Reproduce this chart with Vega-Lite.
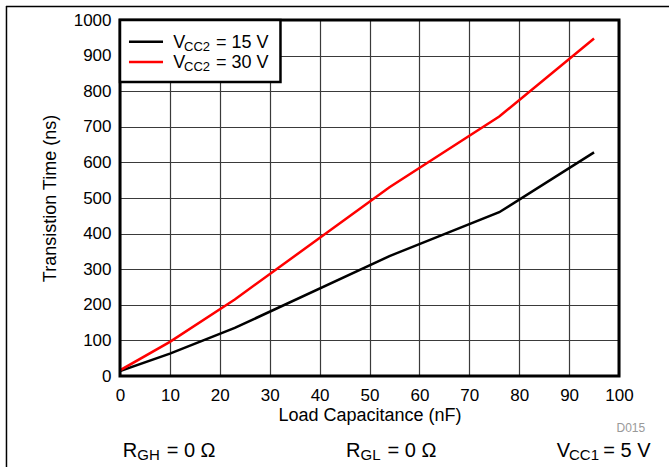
{
  "$schema": "https://vega.github.io/schema/vega-lite/v6.json",
  "width": 499,
  "height": 356,
  "autosize": {"type": "none"},
  "padding": {"left": 120, "top": 20, "right": 50, "bottom": 91},
  "background": "white",
  "data": {"values": [{}]},
  "resolve": {"axis": {"x": "independent", "y": "independent"}},
  "config": {
    "font": "Liberation Sans",
    "view": {"stroke": null},
    "axis": {
      "ticks": false,
      "domain": false,
      "grid": true,
      "gridColor": "#3a3a3a",
      "gridWidth": 1.2,
      "labelFont": "Liberation Sans",
      "labelFontSize": 17,
      "labelColor": "#000000",
      "labelFlush": false,
      "labelOverlap": false,
      "labelBound": false,
      "titleFont": "Liberation Sans",
      "titleFontSize": 18,
      "titleFontWeight": "normal",
      "titleColor": "#000000",
      "format": "d"
    },
    "axisX": {"labelPadding": 11, "titlePadding": 3},
    "axisY": {"labelPadding": 9, "titlePadding": 14},
    "text": {"font": "Liberation Sans", "color": "#000000", "align": "left", "baseline": "alphabetic"}
  },
  "datasets": {
    "curves": [
      {"cap": 0, "time": 14, "series": "VCC2 = 15 V"},
      {"cap": 10, "time": 63, "series": "VCC2 = 15 V"},
      {"cap": 23, "time": 135, "series": "VCC2 = 15 V"},
      {"cap": 54, "time": 337, "series": "VCC2 = 15 V"},
      {"cap": 76, "time": 460, "series": "VCC2 = 15 V"},
      {"cap": 95, "time": 628, "series": "VCC2 = 15 V"},
      {"cap": 0, "time": 16, "series": "VCC2 = 30 V"},
      {"cap": 10, "time": 96, "series": "VCC2 = 30 V"},
      {"cap": 23, "time": 215, "series": "VCC2 = 30 V"},
      {"cap": 54, "time": 530, "series": "VCC2 = 30 V"},
      {"cap": 76, "time": 729, "series": "VCC2 = 30 V"},
      {"cap": 95, "time": 948, "series": "VCC2 = 30 V"}
    ]
  },
  "layer": [
    {
      "data": {"name": "curves"},
      "mark": {"type": "line", "strokeWidth": 2.5, "clip": true},
      "encoding": {
        "x": {
          "field": "cap", "type": "quantitative",
          "scale": {"domain": [0, 100], "nice": false, "zero": false},
          "axis": {"values": [0, 10, 20, 30, 40, 50, 60, 70, 80, 90, 100], "title": "Load Capacitance (nF)"}
        },
        "y": {
          "field": "time", "type": "quantitative",
          "scale": {"domain": [0, 1000], "nice": false, "zero": false},
          "axis": {"values": [0, 100, 200, 300, 400, 500, 600, 700, 800, 900, 1000], "title": "Transistion Time (ns)"}
        },
        "color": {
          "field": "series", "type": "nominal",
          "scale": {"domain": ["VCC2 = 15 V", "VCC2 = 30 V"], "range": ["#000000", "#ff0000"]},
          "legend": null
        }
      }
    },
    {
      "mark": {"type": "rect", "fill": null, "fillOpacity": 0, "stroke": "#000000", "strokeWidth": 3},
      "encoding": {
        "x": {"datum": 0, "scale": {"domain": [0, 100]}, "axis": null},
        "x2": {"datum": 100},
        "y": {"datum": 0, "scale": {"domain": [0, 1000]}, "axis": null},
        "y2": {"datum": 1000}
      }
    },
    {
      "mark": {"type": "rule", "stroke": "#000000", "strokeWidth": 1.5},
      "encoding": {
        "x": {"datum": -22.85, "scale": {"domain": [0, 100]}, "axis": null},
        "x2": {"datum": 110.2},
        "y": {"datum": 1037.9, "scale": {"domain": [0, 1000]}, "axis": null}
      }
    },
    {
      "mark": {"type": "rule", "stroke": "#000000", "strokeWidth": 1.5},
      "encoding": {
        "x": {"datum": -22.75, "scale": {"domain": [0, 100]}, "axis": null},
        "y": {"datum": 1039.3, "scale": {"domain": [0, 1000]}, "axis": null},
        "y2": {"datum": -255.6}
      }
    },
    {
      "mark": {"type": "rect", "fill": "#ffffff", "stroke": "#000000", "strokeWidth": 2.5},
      "encoding": {
        "x": {"datum": 0, "scale": {"domain": [0, 100]}, "axis": null},
        "x2": {"datum": 32.16},
        "y": {"datum": 1000, "scale": {"domain": [0, 1000]}, "axis": null},
        "y2": {"datum": 825.8}
      }
    },
    {
      "mark": {"type": "rule", "stroke": "#000000", "strokeWidth": 2.5},
      "encoding": {
        "x": {"datum": 1.8, "scale": {"domain": [0, 100]}, "axis": null},
        "x2": {"datum": 8.62},
        "y": {"datum": 939, "scale": {"domain": [0, 1000]}, "axis": null}
      }
    },
    {
      "mark": {"type": "rule", "stroke": "#ff0000", "strokeWidth": 2.5},
      "encoding": {
        "x": {"datum": 1.8, "scale": {"domain": [0, 100]}, "axis": null},
        "x2": {"datum": 8.62},
        "y": {"datum": 882, "scale": {"domain": [0, 1000]}, "axis": null}
      }
    },
    {"mark": {"type": "text", "text": "V", "fontSize": 18},
     "encoding": {"x": {"datum": 10.68, "scale": {"domain": [0, 100]}, "axis": null}, "y": {"datum": 920.5, "scale": {"domain": [0, 1000]}, "axis": null}}},
    {"mark": {"type": "text", "text": "CC2", "fontSize": 13},
     "encoding": {"x": {"datum": 12.83, "scale": {"domain": [0, 100]}, "axis": null}, "y": {"datum": 913, "scale": {"domain": [0, 1000]}, "axis": null}}},
    {"mark": {"type": "text", "text": "= 15 V", "fontSize": 18},
     "encoding": {"x": {"datum": 19.24, "scale": {"domain": [0, 100]}, "axis": null}, "y": {"datum": 920.5, "scale": {"domain": [0, 1000]}, "axis": null}}},
    {"mark": {"type": "text", "text": "V", "fontSize": 18},
     "encoding": {"x": {"datum": 10.68, "scale": {"domain": [0, 100]}, "axis": null}, "y": {"datum": 864.3, "scale": {"domain": [0, 1000]}, "axis": null}}},
    {"mark": {"type": "text", "text": "CC2", "fontSize": 13},
     "encoding": {"x": {"datum": 12.83, "scale": {"domain": [0, 100]}, "axis": null}, "y": {"datum": 857, "scale": {"domain": [0, 1000]}, "axis": null}}},
    {"mark": {"type": "text", "text": "= 30 V", "fontSize": 18},
     "encoding": {"x": {"datum": 19.24, "scale": {"domain": [0, 100]}, "axis": null}, "y": {"datum": 864.3, "scale": {"domain": [0, 1000]}, "axis": null}}},
    {"mark": {"type": "text", "text": "R", "fontSize": 20},
     "encoding": {"x": {"datum": 0.54, "scale": {"domain": [0, 100]}, "axis": null}, "y": {"datum": -226.7, "scale": {"domain": [0, 1000]}, "axis": null}}},
    {"mark": {"type": "text", "text": "GH", "fontSize": 15},
     "encoding": {"x": {"datum": 3.47, "scale": {"domain": [0, 100]}, "axis": null}, "y": {"datum": -236, "scale": {"domain": [0, 1000]}, "axis": null}}},
    {"mark": {"type": "text", "text": "= 0 Ω", "fontSize": 20},
     "encoding": {"x": {"datum": 9.36, "scale": {"domain": [0, 100]}, "axis": null}, "y": {"datum": -226.7, "scale": {"domain": [0, 1000]}, "axis": null}}},
    {"mark": {"type": "text", "text": "R", "fontSize": 20},
     "encoding": {"x": {"datum": 45.29, "scale": {"domain": [0, 100]}, "axis": null}, "y": {"datum": -226.7, "scale": {"domain": [0, 1000]}, "axis": null}}},
    {"mark": {"type": "text", "text": "GL", "fontSize": 15},
     "encoding": {"x": {"datum": 48.2, "scale": {"domain": [0, 100]}, "axis": null}, "y": {"datum": -236, "scale": {"domain": [0, 1000]}, "axis": null}}},
    {"mark": {"type": "text", "text": "= 0 Ω", "fontSize": 20},
     "encoding": {"x": {"datum": 53.6, "scale": {"domain": [0, 100]}, "axis": null}, "y": {"datum": -226.7, "scale": {"domain": [0, 1000]}, "axis": null}}},
    {"mark": {"type": "text", "text": "V", "fontSize": 20},
     "encoding": {"x": {"datum": 87.5, "scale": {"domain": [0, 100]}, "axis": null}, "y": {"datum": -226.7, "scale": {"domain": [0, 1000]}, "axis": null}}},
    {"mark": {"type": "text", "text": "CC1", "fontSize": 15},
     "encoding": {"x": {"datum": 89.98, "scale": {"domain": [0, 100]}, "axis": null}, "y": {"datum": -236, "scale": {"domain": [0, 1000]}, "axis": null}}},
    {"mark": {"type": "text", "text": "= 5 V", "fontSize": 20},
     "encoding": {"x": {"datum": 96.85, "scale": {"domain": [0, 100]}, "axis": null}, "y": {"datum": -226.7, "scale": {"domain": [0, 1000]}, "axis": null}}},
    {"mark": {"type": "text", "text": "D015", "fontSize": 12, "color": "#999999"},
     "encoding": {"x": {"datum": 99.5, "scale": {"domain": [0, 100]}, "axis": null}, "y": {"datum": -156.5, "scale": {"domain": [0, 1000]}, "axis": null}}}
  ]
}
